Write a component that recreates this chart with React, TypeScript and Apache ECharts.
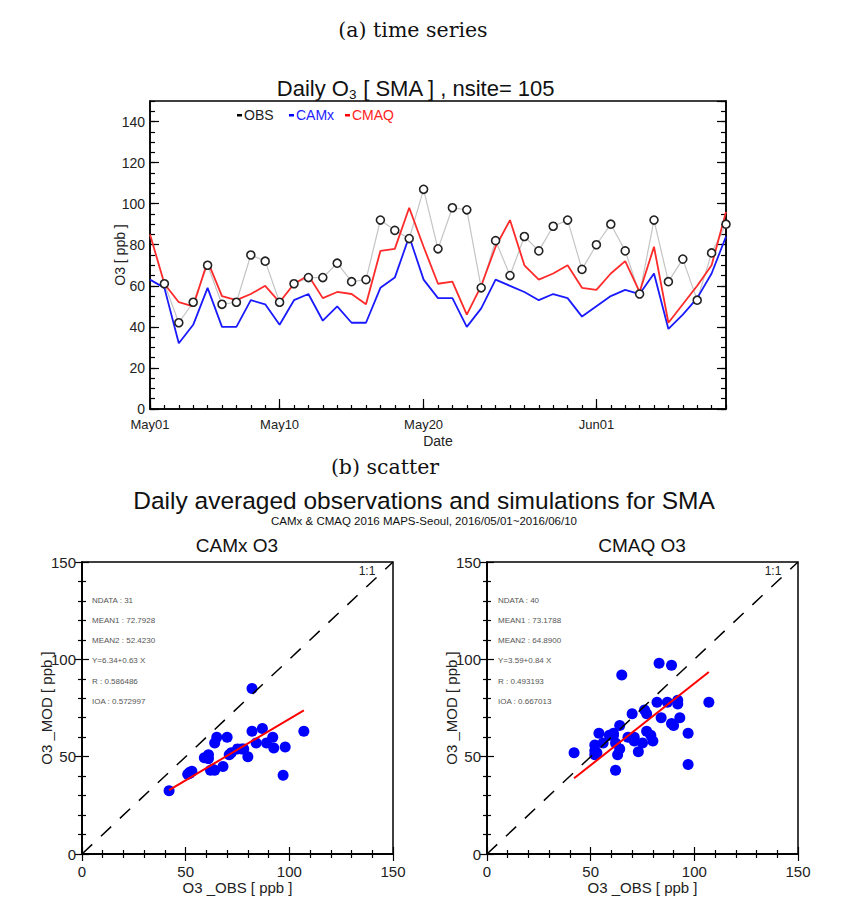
import React, { useEffect, useRef } from "react";
import * as echarts from "echarts";

const dates = [
  "May01","May02","May03","May04","May05","May06","May07","May08","May09","May10",
  "May11","May12","May13","May14","May15","May16","May17","May18","May19","May20",
  "May21","May22","May23","May24","May25","May26","May27","May28","May29","May30",
  "May31","Jun01","Jun02","Jun03","Jun04","Jun05","Jun06","Jun07","Jun08","Jun09","Jun10",
];
const labeledDates = ["May01", "May10", "May20", "Jun01"];

const obsValues = [
  null, 61, 42, 52, 70, 51, 52, 75, 72, 52,
  61, 64, 64, 71, 62, 63, 92, 87, 83, 107,
  78, 98, 97, 59, 82, 65, 84, 77, 89, 92,
  68, 80, 90, 77, 56, 92, 62, 73, 53, 76, 90,
];
const camxValues = [
  63, 59, 32, 41, 59, 40, 40, 53, 51, 41,
  53, 56, 43, 50, 42, 42, 59, 64, 84, 63,
  54, 54, 40, 49, 63, 60, 57, 53, 56, 54,
  45, 50, 55, 58, 56, 66, 39, 46, 54, 66, 84,
];
const cmaqValues = [
  85, 61, 52, 50, 72, 55, 53, 56, 60, 52,
  61, 65, 54, 57, 56, 51, 77, 78, 98, 79,
  61, 62, 46, 60, 79, 92, 70, 63, 66, 70,
  59, 58, 66, 72, 57, 79, 42, 51, 60, 70, 96,
];

const camxScatter = [
  [61, 49], [42, 32.5], [52, 41.5], [70, 60], [51, 41], [52, 42], [75, 54], [72, 52], [53, 42.5], [61, 51],
  [64, 57], [64, 43], [71, 51], [62, 43], [63, 43.5], [92, 60], [87, 64.5], [82, 85], [107, 63], [78, 54],
  [98, 55], [97, 40.5], [59, 49.5], [82, 63], [65, 60], [84, 57], [77, 54], [89, 57], [92.5, 54.5], [68, 45],
  [80, 50],
];
const cmaqScatter = [
  [61, 62], [42, 52], [52, 51], [70, 72], [52, 56], [52, 53], [75, 57], [71, 60], [53, 52], [61, 61],
  [64, 66], [64, 54], [71, 58], [62, 57], [63, 51], [92, 77], [87, 78], [83, 98], [107, 78], [79, 61],
  [97, 62], [97, 46], [59, 61], [82, 78], [65, 92], [84, 70], [77, 63], [89, 67], [93, 70], [68, 60],
  [80, 58], [90, 66], [77, 72], [56, 57], [92, 79], [62, 43], [73, 52.5], [54, 62], [76, 74], [89, 97],
];
const camxFit = [[42, 32.8], [107, 73.8]];
const cmaqFit = [[42, 38.9], [107, 93.5]];
const oneToOne = [[0, 0], [150, 150]];

const camxStats = ["NDATA : 31", "MEAN1 : 72.7928", "MEAN2 : 52.4230", "Y=6.34+0.63 X", "R : 0.586486", "IOA : 0.572997"];
const cmaqStats = ["NDATA : 40", "MEAN1 : 73.1788", "MEAN2 : 64.8900", "Y=3.59+0.84 X", "R : 0.493193", "IOA : 0.667013"];

const SANS = '"Liberation Sans", Arial, sans-serif';
const SERIF = '"DejaVu Serif", "Liberation Serif", serif';
const INK = "#111";

function text(x: number, y: number, t: string, size: number, opts: any = {}) {
  return {
    type: "text",
    x,
    y,
    silent: true,
    style: {
      text: t,
      font: `${opts.weight || "normal"} ${size}px ${opts.family || SANS}`,
      fill: opts.color || INK,
      textAlign: opts.align || "center",
      textVerticalAlign: "middle",
    },
  };
}

function scatterAxes(grid: number) {
  const base = {
    type: "value",
    gridIndex: grid,
    min: 0,
    max: 150,
    interval: 50,
    splitLine: { show: false },
    axisLine: { show: true, lineStyle: { color: "#000", width: 1.5 } },
    axisTick: { show: true, inside: true, length: 7, lineStyle: { color: "#000", width: 1.2 } },
    minorTick: { show: true, splitNumber: 5, length: 4, lineStyle: { color: "#000", width: 1.2 } },
  };
  const lbl = { show: true, fontSize: 15, color: "#222", fontFamily: SANS };
  const xs = [
    {
      ...base,
      position: "bottom",
      axisLabel: { ...lbl, margin: 10 },
      name: "O3 _OBS [ ppb ]",
      nameLocation: "middle",
      nameGap: 26,
      nameMoveOverlap: false,
      nameTextStyle: { fontSize: 15, color: "#222", fontFamily: SANS },
    },
    { ...base, position: "top", axisLabel: { show: false } },
  ];
  const ys = [
    {
      ...base,
      position: "left",
      axisLabel: { ...lbl, margin: 6 },
      name: "O3 _MOD [ ppb ]",
      nameLocation: "middle",
      nameGap: 28,
      nameMoveOverlap: false,
      nameTextStyle: { fontSize: 15, color: "#222", fontFamily: SANS },
    },
    { ...base, position: "right", axisLabel: { show: false } },
  ];
  return { xs, ys };
}

export default function App() {
  const ref = useRef<HTMLDivElement>(null);
  useEffect(() => {
    const chart = echarts.init(ref.current!, null, { renderer: "svg" });
    const s1 = scatterAxes(1);
    const s2 = scatterAxes(2);
    const tsTickBase = { show: true, inside: true, lineStyle: { color: "#000", width: 1.2 } };

    const option: any = {
      animation: false,
      backgroundColor: "#fff",
      grid: [
        { left: 150, top: 101, width: 576, height: 308, show: true, borderColor: "#000", borderWidth: 1.5, backgroundColor: "transparent" },
        { left: 82, top: 562, width: 311, height: 292, show: true, borderColor: "#000", borderWidth: 1.5, backgroundColor: "transparent" },
        { left: 487, top: 562, width: 311, height: 292, show: true, borderColor: "#000", borderWidth: 1.5, backgroundColor: "transparent" },
      ],
      xAxis: [
        {
          type: "category",
          gridIndex: 0,
          data: dates,
          boundaryGap: false,
          position: "bottom",
          axisLine: { show: true, lineStyle: { color: "#000", width: 1.5 } },
          axisTick: { ...tsTickBase, length: 4, interval: 0 },
          axisLabel: {
            interval: (_i: number, v: string) => labeledDates.includes(v),
            fontSize: 13,
            color: "#222",
            fontFamily: SANS,
            margin: 9,
          },
          name: "Date",
          nameLocation: "middle",
          nameGap: 25,
          nameMoveOverlap: false,
          nameTextStyle: { fontSize: 14, color: "#222", fontFamily: SANS },
        },
        {
          type: "category",
          gridIndex: 0,
          data: dates,
          boundaryGap: false,
          position: "bottom",
          axisLine: { show: false },
          axisTick: { ...tsTickBase, length: 10, interval: (_i: number, v: string) => labeledDates.includes(v) },
          axisLabel: { show: false },
        },
        ...s1.xs,
        ...s2.xs,
      ],
      yAxis: [
        {
          type: "value",
          gridIndex: 0,
          min: 0,
          max: 150,
          interval: 20,
          position: "left",
          splitLine: { show: false },
          axisLine: { show: true, lineStyle: { color: "#000", width: 1.5 } },
          axisTick: { ...tsTickBase, length: 9 },
          axisLabel: { fontSize: 14, color: "#222", fontFamily: SANS, margin: 5, showMaxLabel: false },
          name: "O3 [ ppb ]",
          nameLocation: "middle",
          nameGap: 23,
          nameMoveOverlap: false,
          nameTextStyle: { fontSize: 14, color: "#222", fontFamily: SANS },
        },
        {
          type: "value", gridIndex: 0, min: 0, max: 150, interval: 5, position: "left",
          splitLine: { show: false }, axisLine: { show: false },
          axisTick: { ...tsTickBase, length: 5 }, axisLabel: { show: false },
        },
        {
          type: "value", gridIndex: 0, min: 0, max: 150, interval: 20, position: "right",
          splitLine: { show: false }, axisLine: { show: true, lineStyle: { color: "#000", width: 1.5 } },
          axisTick: { ...tsTickBase, length: 9 }, axisLabel: { show: false },
        },
        {
          type: "value", gridIndex: 0, min: 0, max: 150, interval: 5, position: "right",
          splitLine: { show: false }, axisLine: { show: false },
          axisTick: { ...tsTickBase, length: 5 }, axisLabel: { show: false },
        },
        ...s1.ys,
        ...s2.ys,
      ],
      series: [
        {
          name: "OBS", type: "line", xAxisIndex: 0, yAxisIndex: 0, data: obsValues,
          symbol: "circle", symbolSize: 8, showAllSymbol: true,
          itemStyle: { color: "#fff", borderColor: "#222", borderWidth: 1.6 },
          lineStyle: { color: "#c4c4c4", width: 1.2 },
        },
        {
          name: "CAMx", type: "line", xAxisIndex: 0, yAxisIndex: 0, data: camxValues,
          symbol: "none", lineStyle: { color: "#1a1aff", width: 1.8 },
        },
        {
          name: "CMAQ", type: "line", xAxisIndex: 0, yAxisIndex: 0, data: cmaqValues,
          symbol: "none", lineStyle: { color: "#ff2a2a", width: 1.8 },
        },
        {
          type: "line", xAxisIndex: 2, yAxisIndex: 4, data: oneToOne, symbol: "none",
          lineStyle: { color: "#000", width: 1.5, type: [14, 12] },
        },
        {
          type: "scatter", xAxisIndex: 2, yAxisIndex: 4, data: camxScatter, symbolSize: 11,
          itemStyle: { color: "#0000ff", opacity: 1 },
        },
        {
          type: "line", xAxisIndex: 2, yAxisIndex: 4, data: camxFit, symbol: "none",
          lineStyle: { color: "#ff0000", width: 2 },
        },
        {
          type: "line", xAxisIndex: 4, yAxisIndex: 6, data: oneToOne, symbol: "none",
          lineStyle: { color: "#000", width: 1.5, type: [14, 12] },
        },
        {
          type: "scatter", xAxisIndex: 4, yAxisIndex: 6, data: cmaqScatter, symbolSize: 11,
          itemStyle: { color: "#0000ff", opacity: 1 },
        },
        {
          type: "line", xAxisIndex: 4, yAxisIndex: 6, data: cmaqFit, symbol: "none",
          lineStyle: { color: "#ff0000", width: 2 },
        },
      ],
      graphic: [
        text(413, 30, "(a) time series", 20.5, { family: SERIF }),
        text(385, 467, "(b) scatter", 20.5, { family: SERIF }),
        text(424, 500, "Daily averaged observations and simulations for SMA", 24.5),
        text(424, 521, "CAMx & CMAQ 2016 MAPS-Seoul, 2016/05/01~2016/06/10", 11.5),
        text(237, 545, "CAMx O3", 19),
        text(642, 545, "CMAQ O3", 19),
        {
          type: "text",
          x: 416,
          y: 88,
          silent: true,
          style: {
            text: "{a|Daily O}{s|3}{a| [ SMA ] , nsite= 105}",
            textAlign: "center",
            textVerticalAlign: "middle",
            fill: INK,
            rich: {
              a: { fontSize: 22, fontFamily: SANS, color: INK, lineHeight: 27, verticalAlign: "middle" },
              s: { fontSize: 13.5, fontFamily: SANS, color: INK, lineHeight: 27, verticalAlign: "bottom" },
            },
          },
        },
        { type: "rect", shape: { x: 237, y: 114, width: 5, height: 2.5 }, style: { fill: "#000" }, silent: true },
        text(244, 115, "OBS", 14, { align: "left", color: "#222" }),
        { type: "rect", shape: { x: 289, y: 114, width: 5, height: 2.5 }, style: { fill: "#0000ff" }, silent: true },
        text(296, 115, "CAMx", 14, { align: "left", color: "#2222ff" }),
        { type: "rect", shape: { x: 345, y: 114, width: 5, height: 2.5 }, style: { fill: "#ff0000" }, silent: true },
        text(352, 115, "CMAQ", 14, { align: "left", color: "#ff2222" }),
        ...camxStats.map((t, i) => text(92, 600 + i * 20.3, t, 8, { align: "left", color: "#555" })),
        ...cmaqStats.map((t, i) => text(498, 600 + i * 20.3, t, 8, { align: "left", color: "#555" })),
        text(367, 571, "1:1", 12, { color: "#222" }),
        text(773, 571, "1:1", 12, { color: "#222" }),
      ],
    };
    chart.setOption(option);
    return () => chart.dispose();
  }, []);
  return (
    <div
      ref={ref}
      style={{ position: "fixed", left: 0, top: 0, width: 852, height: 918, background: "#fff" }}
    />
  );
}
